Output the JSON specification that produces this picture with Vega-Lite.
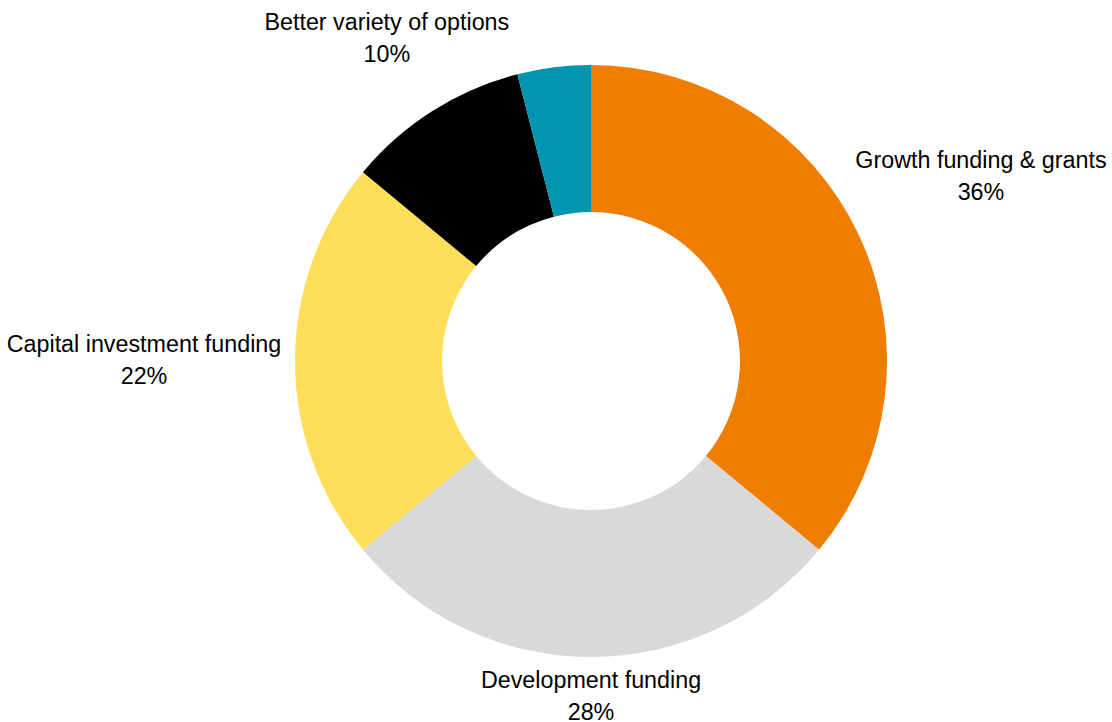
{
  "$schema": "https://vega.github.io/schema/vega-lite/v6.json",
  "width": 1042,
  "height": 722,
  "padding": {"left": 70, "top": 0, "right": 0, "bottom": 0},
  "autosize": {"type": "none"},
  "background": "white",
  "view": {"stroke": null},
  "data": {
    "values": [
      {"category": "Growth funding & grants", "share": 36},
      {"category": "Development funding", "share": 28},
      {"category": "Capital investment funding", "share": 22},
      {"category": "Better variety of options", "share": 10},
      {"category": "Other", "share": 4}
    ]
  },
  "transform": [
    {"window": [{"op": "row_number", "as": "rank"}]},
    {"stack": "share", "groupby": [], "sort": [{"field": "rank", "order": "ascending"}], "as": ["s0", "s1"]},
    {"calculate": "(datum.s0 + datum.s1) / 2", "as": "mid"},
    {"calculate": "datum.category + '\\n' + datum.share + '%'", "as": "label"}
  ],
  "layer": [
    {
      "mark": {"type": "arc", "innerRadius": 149, "outerRadius": 296},
      "encoding": {
        "theta": {"field": "s0", "type": "quantitative", "scale": {"domain": [0, 100]}},
        "theta2": {"field": "s1"},
        "color": {
          "field": "category",
          "type": "nominal",
          "scale": {
            "domain": ["Growth funding & grants", "Development funding", "Capital investment funding", "Better variety of options", "Other"],
            "range": ["#EF7D00", "#D9D9D9", "#FFDE5A", "#000000", "#0096B2"]
          },
          "legend": null
        }
      }
    },
    {
      "transform": [{"filter": "datum.category === 'Growth funding & grants'"}],
      "mark": {"type": "text", "radius": 431, "dy": -16, "font": "Liberation Sans", "fontSize": 23.3, "lineHeight": 32, "lineBreak": "\n", "align": "center", "baseline": "middle", "color": "#000000"},
      "encoding": {
        "theta": {"field": "mid", "type": "quantitative"},
        "text": {"field": "label", "type": "nominal"}
      }
    },
    {
      "transform": [{"filter": "datum.category === 'Capital investment funding'"}],
      "mark": {"type": "text", "radius": 447, "dy": -16, "font": "Liberation Sans", "fontSize": 23.3, "lineHeight": 32, "lineBreak": "\n", "align": "center", "baseline": "middle", "color": "#000000"},
      "encoding": {
        "theta": {"field": "mid", "type": "quantitative"},
        "text": {"field": "label", "type": "nominal"}
      }
    },
    {
      "transform": [{"filter": "datum.category === 'Development funding'"}],
      "mark": {"type": "text", "radius": 336, "dy": -16, "font": "Liberation Sans", "fontSize": 23.3, "lineHeight": 32, "lineBreak": "\n", "align": "center", "baseline": "middle", "color": "#000000"},
      "encoding": {
        "theta": {"field": "mid", "type": "quantitative"},
        "text": {"field": "label", "type": "nominal"}
      }
    },
    {
      "transform": [{"filter": "datum.category === 'Better variety of options'"}],
      "mark": {"type": "text", "radius": 381, "dy": -16, "font": "Liberation Sans", "fontSize": 23.3, "lineHeight": 32, "lineBreak": "\n", "align": "center", "baseline": "middle", "color": "#000000"},
      "encoding": {
        "theta": {"field": "mid", "type": "quantitative"},
        "text": {"field": "label", "type": "nominal"}
      }
    }
  ]
}
